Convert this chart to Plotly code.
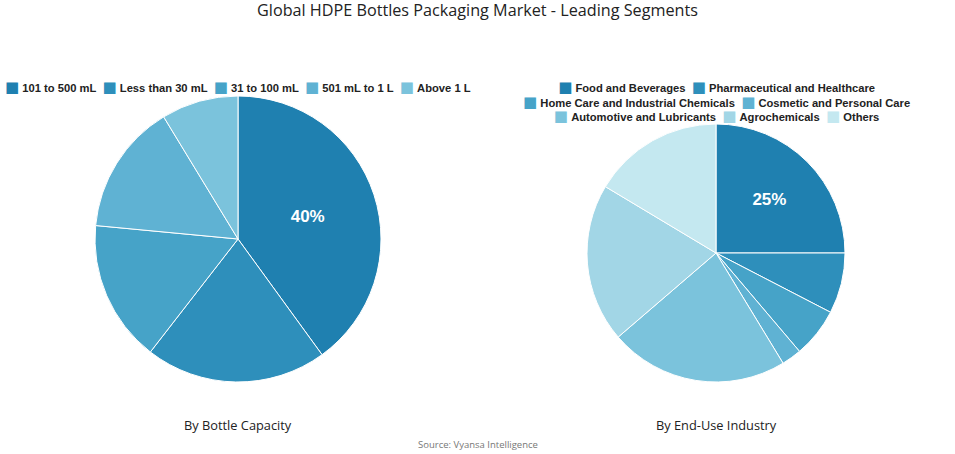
import plotly.graph_objects as go

# ---- data ----
capacity_labels = ["101 to 500 mL", "Less than 30 mL", "31 to 100 mL", "501 mL to 1 L", "Above 1 L"]
capacity_values = [40.0, 20.5, 16.0, 14.8, 8.7]
capacity_colors = ["#1f80b0", "#2e8fbb", "#46a3c8", "#5fb2d3", "#7bc3dc"]

industry_labels = ["Food and Beverages", "Pharmaceutical and Healthcare",
                   "Home Care and Industrial Chemicals", "Cosmetic and Personal Care",
                   "Automotive and Lubricants", "Agrochemicals", "Others"]
industry_values = [25.0, 7.6, 6.2, 2.5, 22.4, 19.9, 16.4]
industry_colors = ["#1f80b0", "#2e8fbb", "#46a3c8", "#5fb2d3", "#7bc3dc", "#a2d6e6", "#c4e8f0"]

# legend row groupings (indices) for the right legend
industry_rows = [[0, 1], [2, 3], [4, 5, 6]]

title_text = "Global HDPE Bottles Packaging Market - Leading Segments"
sub_left = "By Bottle Capacity"
sub_right = "By End-Use Industry"
source_text = "Source: Vyansa Intelligence"

W, H = 955, 454
LEG_FONT = "Liberation Sans, Arial, sans-serif"
TXT_FONT = "Open Sans, sans-serif"


def px_x(v):
    return v / W


def px_y(v):
    return 1 - v / H


def first_only(n):
    return ["%{percent:.0%}"] + [""] * (n - 1)


fig = go.Figure()

fig.add_trace(go.Pie(
    labels=capacity_labels, values=capacity_values, sort=False, direction="clockwise",
    marker=dict(colors=capacity_colors, line=dict(color="white", width=1)),
    texttemplate=first_only(len(capacity_values)), textposition="inside",
    insidetextorientation="horizontal",
    textfont=dict(color="white", size=17, family=LEG_FONT, weight="bold"),
    domain=dict(x=[px_x(95), px_x(381)], y=[px_y(382), px_y(96)]),
    showlegend=False, hoverinfo="label+percent",
))

fig.add_trace(go.Pie(
    labels=industry_labels, values=industry_values, sort=False, direction="clockwise",
    marker=dict(colors=industry_colors, line=dict(color="white", width=1)),
    texttemplate=first_only(len(industry_values)), textposition="inside",
    insidetextorientation="horizontal",
    textfont=dict(color="white", size=17, family=LEG_FONT, weight="bold"),
    domain=dict(x=[px_x(587), px_x(845)], y=[px_y(382), px_y(124)]),
    showlegend=False, hoverinfo="label+percent",
))


def legend_row(labels, colors, idx):
    parts = []
    for i in idx:
        parts.append(
            f"<span style='color:{colors[i]};font-family:DejaVu Sans;font-size:15px'>\u25a0</span>"
            f"\u00a0<b>{labels[i]}</b>"
        )
    return "\u00a0\u00a0".join(parts)


annotations = []
annotations.append(dict(
    text=legend_row(capacity_labels, capacity_colors, range(len(capacity_labels))),
    x=px_x(238), y=px_y(87), xref="paper", yref="paper", xanchor="center", yanchor="middle",
    showarrow=False, font=dict(family=LEG_FONT, size=11.2, color="#222222")))
annotations.append(dict(
    text="<br>".join(legend_row(industry_labels, industry_colors, row) for row in industry_rows),
    x=px_x(716), y=px_y(101), xref="paper", yref="paper",
    xanchor="center", yanchor="middle", align="center",
    showarrow=False, font=dict(family=LEG_FONT, size=11.2, color="#222222")))

annotations.append(dict(text=sub_left, x=px_x(238), y=px_y(425), xref="paper", yref="paper",
                        xanchor="center", yanchor="middle",
                        showarrow=False, font=dict(family=TXT_FONT, size=12.8, color="#222222")))
annotations.append(dict(text=sub_right, x=px_x(716), y=px_y(425), xref="paper", yref="paper",
                        xanchor="center", yanchor="middle",
                        showarrow=False, font=dict(family=TXT_FONT, size=12.8, color="#222222")))
annotations.append(dict(text=source_text, x=0.5, y=px_y(444), xref="paper", yref="paper",
                        xanchor="center", yanchor="middle",
                        showarrow=False, font=dict(family=TXT_FONT, size=9.5, color="#777777")))

fig.update_layout(
    width=W, height=H,
    margin=dict(l=0, r=0, t=0, b=0),
    paper_bgcolor="white", plot_bgcolor="white",
    title=dict(text=title_text, x=0.5, xanchor="center", y=px_y(10), yanchor="middle",
               font=dict(family=TXT_FONT, size=16.2, color="#222222")),
    annotations=annotations,
    showlegend=False,
)

fig.write_html("out.html")
